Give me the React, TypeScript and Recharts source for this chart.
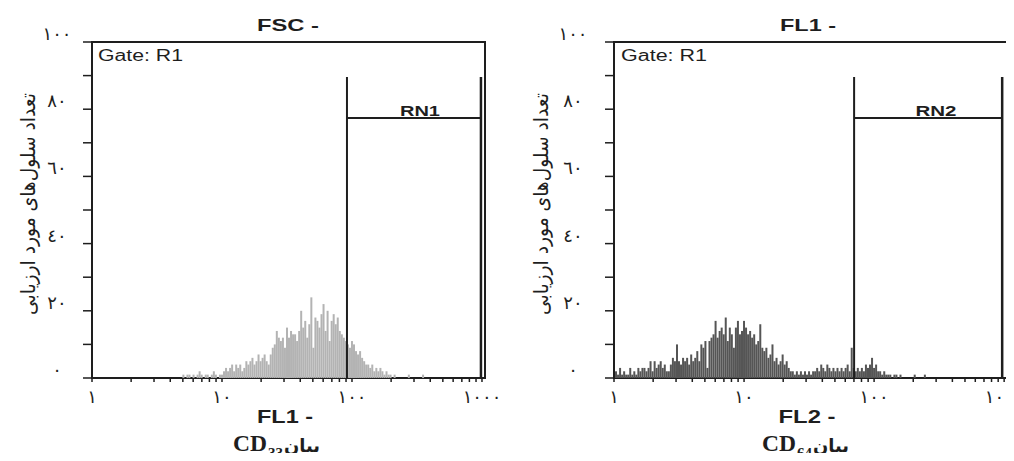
import React from "react";
import { ComposedChart, Bar, XAxis, YAxis, ReferenceLine, ReferenceArea } from "recharts";

// log channels, 64 per decade (FACS style)
const CHANNELS_PER_DECADE = 64;

const xTicks = [
  1, 2, 3, 4, 5, 6, 7, 8, 9, 10, 20, 30, 40, 50, 60, 70, 80, 90, 100, 200, 300, 400, 500, 600, 700,
  800, 900, 1000,
];
const xTickLabels: Record<number, string> = { 1: "١", 10: "١٠", 100: "١٠٠", 1000: "١٠٠٠" };
const yTicks = [0, 10, 20, 30, 40, 50, 60, 70, 80, 90, 100];
const yTickLabels: Record<number, string> = {
  0: "٠",
  20: "٢٠",
  40: "٤٠",
  60: "٦٠",
  80: "٨٠",
  100: "١٠٠",
};

// CD33 histogram (FL1)
const leftStartChannel = 45;
const leftCounts = [
  1, 0, 1, 1, 0, 1, 0, 1, 2, 1, 0, 1, 1, 0, 1, 2, 1, 0, 1, 1,
  2, 3, 2, 3, 4, 2, 4, 3, 4, 2, 3, 5, 4, 5, 6, 4, 5, 7, 5, 6,
  7, 5, 4, 7, 9, 10, 14, 12, 11, 12, 9, 15, 12, 14, 13,
  13, 11, 14, 20, 15, 17, 12, 16, 24, 9, 18, 17, 15, 19, 22, 14, 20, 11, 17, 19, 16, 18, 14, 13, 12, 11, 10,
  9, 11, 10, 8, 7, 8, 6, 5, 4, 4, 3, 4, 2, 3, 2, 3, 2, 1, 2, 1, 1, 0, 1, 0,
  0, 0, 0, 0, 0, 1, 0, 0, 0, 0, 0, 0, 1,
];

// CD64 histogram (FL2)
const rightStartChannel = 0;
const rightCounts = [
  0, 2, 1, 3, 1, 2, 1, 1, 3, 1, 2, 1, 3, 2, 3, 3, 2, 3, 5, 2,
  5, 3, 4, 5, 3, 4, 2, 2, 4, 6, 5, 10, 5, 4, 6, 5, 6, 4, 7, 5,
  6, 8, 5, 10, 9, 11, 3, 11, 12, 13, 17, 12, 14, 15, 13, 18, 11, 15, 13, 9,
  15, 17, 13, 14, 17, 15, 13, 14, 12, 13, 10, 11, 16, 9, 8, 9, 6, 7, 10, 5,
  6, 4, 5, 7, 4, 5, 3, 2, 2, 1, 2, 1, 2, 1, 2, 1, 2, 1, 2, 2,
  3, 2, 4, 3, 2, 4, 3, 2, 3, 2, 3, 2, 3, 2, 3, 4, 2, 9, 3, 2,
  3, 2, 3, 2, 4, 3, 4, 6, 3, 4, 2, 2, 1, 2, 1, 1, 1, 0, 1, 1,
  0, 1, 0, 0, 0, 0, 0, 0, 1, 0, 0, 0, 0, 1,
];

// marker regions RN1 / RN2 (from, to) and their bar heights
const leftGate = [91.5, 982];
const rightGate = [70.2, 966];
const gateTop = 89.6;
const gateBar = 77.4;

const toRows = (start: number, counts: number[]) =>
  counts.map((count, i) => ({ value: 10 ** ((start + i) / CHANNELS_PER_DECADE), count }));

const PLOT_TOP = 42;
const PLOT_BOTTOM = 378;
const INK = "#1e1e1e";
const SANS = "'Liberation Sans', Arial, sans-serif";
const FARSI = "'DejaVu Sans', sans-serif";
const FIT = "spacingAndGlyphs";

const XTick = ({ x, payload }: any) => {
  const label = xTickLabels[payload.value];
  if (!label) return null;
  return (
    <text x={x} y={PLOT_BOTTOM + 25} textAnchor="middle" fontFamily={FARSI} fontSize={18} fill={INK}>
      {label}
    </text>
  );
};

const makeYTick = (labelX: number) => ({ y, payload }: any) => {
  const label = yTickLabels[payload.value];
  if (!label) return null;
  return (
    <text x={labelX} y={y - 2} textAnchor="middle" fontFamily={FARSI} fontSize={18} fill={INK}>
      {label}
    </text>
  );
};

interface HistogramProps {
  left: number;
  plotWidth: number;
  xMax: number;
  counts: number[];
  start: number;
  color: string;
  gate: number[];
  labelX: number;
}

const Histogram = ({ left, plotWidth, xMax, counts, start, color, gate, labelX }: HistogramProps) => {
  const rows = toRows(start, counts);
  const YTick = makeYTick(labelX);
  return (
    <div style={{ position: "absolute", left, top: 0 }}>
      <ComposedChart
        width={500}
        height={461}
        data={rows}
        margin={{ top: PLOT_TOP, right: 500 - 92 - plotWidth, bottom: 461 - PLOT_BOTTOM - 30, left: 0 }}
      >
        <XAxis
          dataKey="value"
          type="number"
          scale="log"
          domain={[1, xMax]}
          allowDataOverflow
          ticks={xTicks}
          interval={0}
          height={30}
          tickSize={4}
          axisLine={false}
          tickLine={{ stroke: INK, strokeWidth: 1.5 }}
          tick={<XTick />}
        />
        <YAxis
          type="number"
          domain={[0, 100]}
          ticks={yTicks}
          interval={0}
          width={92}
          tickSize={9}
          axisLine={false}
          tickLine={{ stroke: INK, strokeWidth: 1.5 }}
          tick={<YTick />}
        />
        <Bar dataKey="count" fill={color} barSize={2} isAnimationActive={false} />
        <ReferenceArea
          x1={1}
          x2={xMax}
          y1={0}
          y2={100}
          fill="none"
          fillOpacity={0}
          stroke={INK}
          strokeWidth={2}
          ifOverflow="visible"
        />
        <ReferenceLine segment={[{ x: gate[0], y: 0 }, { x: gate[0], y: gateTop }]} stroke={INK} strokeWidth={2} />
        <ReferenceLine segment={[{ x: gate[0], y: gateBar }, { x: gate[1], y: gateBar }]} stroke={INK} strokeWidth={2} />
        <ReferenceLine segment={[{ x: gate[1], y: 0 }, { x: gate[1], y: gateTop }]} stroke={INK} strokeWidth={2.5} />
      </ComposedChart>
    </div>
  );
};

const Subtitle = ({ x, sub }: { x: number; sub: string }) => (
  <g fill={INK}>
    <text x={x} y={451} fontFamily="'Liberation Serif', serif" fontWeight="bold" fontSize={24} textLength={34} lengthAdjust={FIT}>
      CD
    </text>
    <text x={x + 35} y={458} fontFamily="'Liberation Serif', serif" fontWeight="bold" fontSize={14} textLength={15} lengthAdjust={FIT}>
      {sub}
    </text>
    <text x={x + 69} y={452} textAnchor="middle" fontFamily={FARSI} fontWeight="bold" fontSize={18} textLength={36} lengthAdjust={FIT}>
      بیان
    </text>
  </g>
);

const YTitle = ({ x }: { x: number }) => (
  <text
    x={x}
    y={204}
    transform={`rotate(-90 ${x} 204)`}
    textAnchor="middle"
    dominantBaseline="central"
    fontFamily={FARSI}
    fontSize={20}
    textLength={222}
    lengthAdjust={FIT}
    fill={INK}
  >
    تعداد سلول‌های مورد ارزیابی
  </text>
);

const App = () => {
  return (
    <div style={{ position: "relative", width: 1014, height: 461, margin: -8, overflow: "hidden", background: "#fff" }}>
      <Histogram left={0} plotWidth={393} xMax={1055} counts={leftCounts} start={leftStartChannel} color="#b3b3b3" gate={leftGate} labelX={57} />
      <Histogram left={522} plotWidth={395} xMax={1090} counts={rightCounts} start={rightStartChannel} color="#555555" gate={rightGate} labelX={51} />
      <svg width={1014} height={461} style={{ position: "absolute", left: 0, top: 0, pointerEvents: "none" }}>
        <g fontFamily={SANS} fill={INK}>
          <text x={288} y={31} textAnchor="middle" fontWeight="bold" fontSize={17} textLength={62} lengthAdjust={FIT}>FSC  -</text>
          <text x={808} y={31} textAnchor="middle" fontWeight="bold" fontSize={17} textLength={56} lengthAdjust={FIT}>FL1  -</text>
          <text x={98} y={61} fontSize={16} textLength={85} lengthAdjust={FIT}>Gate: R1</text>
          <text x={621} y={61} fontSize={16} textLength={86} lengthAdjust={FIT}>Gate: R1</text>
          <text x={420} y={116} textAnchor="middle" fontWeight="bold" fontSize={15} textLength={40} lengthAdjust={FIT}>RN1</text>
          <text x={936} y={116} textAnchor="middle" fontWeight="bold" fontSize={15} textLength={41} lengthAdjust={FIT}>RN2</text>
          <text x={285} y={423} textAnchor="middle" fontWeight="bold" fontSize={18} textLength={56} lengthAdjust={FIT}>FL1  -</text>
          <text x={807} y={423} textAnchor="middle" fontWeight="bold" fontSize={18} textLength={57} lengthAdjust={FIT}>FL2  -</text>
        </g>
        <YTitle x={28} />
        <YTitle x={541} />
        <Subtitle x={233} sub="33" />
        <Subtitle x={762} sub="64" />
      </svg>
    </div>
  );
};

export default App;
